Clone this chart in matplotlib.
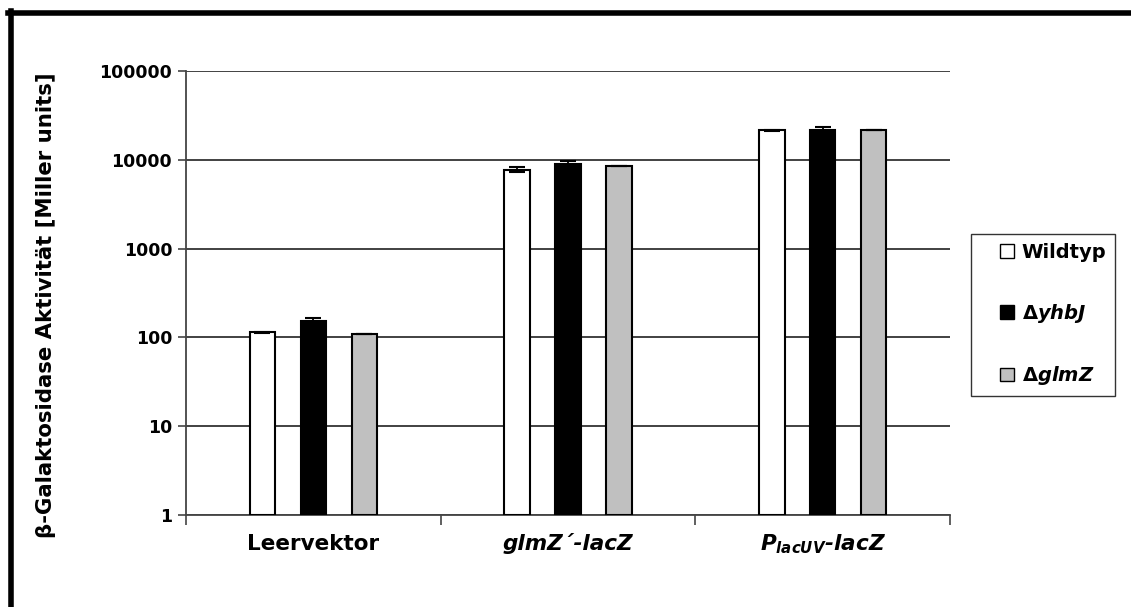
import matplotlib
matplotlib.use("Agg")
import matplotlib.pyplot as plt
from matplotlib.lines import Line2D
from matplotlib.patches import Patch, Rectangle
from matplotlib.legend_handler import HandlerPatch
import numpy as np

plt.rcParams['font.family'] = ['DejaVu Sans']
plt.rcParams['mathtext.fontset'] = 'custom'
plt.rcParams['mathtext.it'] = 'DejaVu Sans:italic:bold'
plt.rcParams['mathtext.rm'] = 'DejaVu Sans:bold'
plt.rcParams['mathtext.bf'] = 'DejaVu Sans:bold'

categories = ["Leervektor", "glmZ´-lacZ", r"$P_{lacUV}$-lacZ"]
category_italic = [False, True, True]
series_names = ["Wildtyp", r"Δ$yhbJ$", r"Δ$glmZ$"]
wildtyp = [113, 7700, 21500]
yhbj = [153, 8900, 21700]
glmz = [108, 8600, 21500]
wildtyp_err = [2, 500, 300]
yhbj_err = [14, 800, 2000]
glmz_err = [0, 0, 0]
yticks = [1, 10, 100, 1000, 10000, 100000]
ylabel = "β-Galaktosidase Aktivität [Miller units]"

colors = ["white", "black", "#c0c0c0"]
values = [wildtyp, yhbj, glmz]
errors = [wildtyp_err, yhbj_err, glmz_err]


class RightSquareHandler(HandlerPatch):
    def create_artists(self, legend, orig_handle, xdescent, ydescent,
                       width, height, fontsize, trans):
        size = 0.7 * fontsize
        x0 = width - xdescent - size
        y0 = (height - size) / 2 - ydescent
        r = Rectangle((x0, y0), size, size, facecolor=orig_handle.get_facecolor(),
                      edgecolor="black", linewidth=1.0, transform=trans)
        return [r]


fig = plt.figure(figsize=(11.31, 6.07), dpi=100)
ax = fig.add_axes([0.1645, 0.1516, 0.8400 - 0.1645, 0.883 - 0.1516])

x = np.arange(len(categories))
offsets = [-0.2, 0.0, 0.2]
width = 0.1
handles = []
for i in range(3):
    ax.bar(x + offsets[i], values[i], width=width, bottom=1, color=colors[i],
           edgecolor="black", linewidth=1.5, zorder=3)
    ax.errorbar(x + offsets[i], values[i], yerr=errors[i], fmt="none",
                ecolor="black", elinewidth=1.3, capsize=6, capthick=1.5, zorder=4)
    handles.append(Patch(facecolor=colors[i], edgecolor="black", linewidth=1.0,
                         label=series_names[i]))

ax.set_yscale("log")
ax.set_ylim(1, 100000)
ax.set_xlim(-0.5, 2.5)
ax.set_yticks(yticks)
ax.set_yticklabels([str(v) for v in yticks], fontsize=12.5, fontweight="bold")
ax.yaxis.set_minor_locator(matplotlib.ticker.NullLocator())
ax.grid(axis="y", color="#333333", linewidth=1.3, zorder=0)
ax.set_axisbelow(True)

ax.set_xticks([-0.5, 0.5, 1.5, 2.5])
ax.set_xticklabels([])
ax.tick_params(axis="x", direction="out", length=7, width=1.2, color="#444444")
ax.tick_params(axis="y", direction="out", length=6, width=1.2, color="#444444", pad=4)

for i, c in enumerate(categories):
    ax.text(x[i], -0.065, c, transform=ax.get_xaxis_transform(), ha="center", va="center",
            fontsize=15.5, fontweight="bold",
            fontstyle="italic" if category_italic[i] else "normal")

for s in ["top", "right"]:
    ax.spines[s].set_visible(False)
ax.spines["left"].set_color("#444444")
ax.spines["left"].set_linewidth(1.3)
ax.spines["bottom"].set_color("#444444")
ax.spines["bottom"].set_linewidth(1.3)

fig.text(46 / 1131, 1 - 305 / 607, ylabel, rotation=90, ha="center", va="center",
         fontsize=15.3, fontweight="bold")

leg = fig.legend(handles=handles, loc="upper left",
                 bbox_to_anchor=(971 / 1131, 1 - 234 / 607),
                 prop={"weight": "bold", "size": 14}, frameon=True, fancybox=False,
                 handlelength=1.75, handleheight=0.7, handletextpad=0.4,
                 labelspacing=2.05, borderpad=0.45, borderaxespad=0,
                 handler_map={Patch: RightSquareHandler()})
leg.get_frame().set_edgecolor("black")
leg.get_frame().set_linewidth(1.0)

# thick frame lines along top and left of the picture
fig.add_artist(Line2D([8 / 1131, 1.0], [1 - 13 / 607, 1 - 13 / 607], color="black",
                      linewidth=4, transform=fig.transFigure))
fig.add_artist(Line2D([10.5 / 1131, 10.5 / 1131], [0, 1 - 11 / 607], color="black",
                      linewidth=4, transform=fig.transFigure))

fig.savefig("out.png", dpi=100)
